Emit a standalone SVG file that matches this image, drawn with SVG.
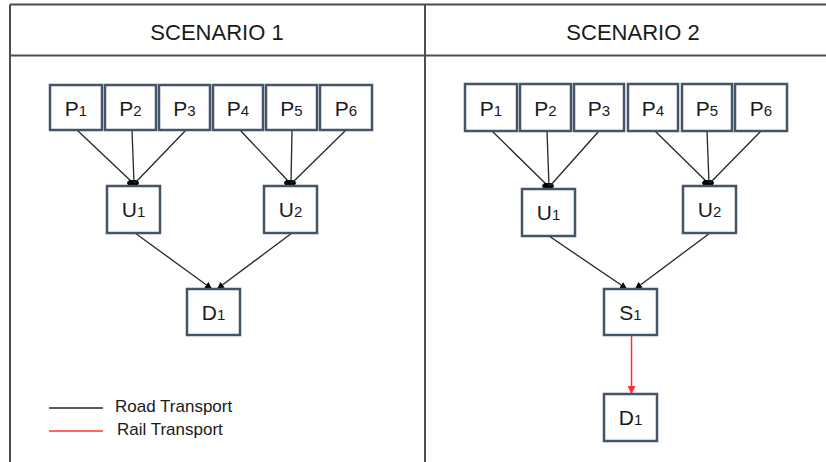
<svg xmlns="http://www.w3.org/2000/svg" width="826" height="462" viewBox="0 0 826 462">
  <style>
    .frame { stroke: #4d4d4d; stroke-width: 2; fill: none; }
    .box { fill: #ffffff; stroke: #44546a; stroke-width: 2.5; }
    .title { font-family: "Liberation Sans", Arial, sans-serif; font-size: 22px; fill: #1a1a1a; text-anchor: middle; }
    .lbl { font-family: "Liberation Sans", Arial, sans-serif; font-size: 21px; fill: #1a1a1a; text-anchor: middle; }
    .lbl tspan { font-size: 15px; }
    .road { stroke: #262626; stroke-width: 1.3; fill: none; }
    .rail { stroke: #ff3030; stroke-width: 1.5; fill: none; }
    .legend { font-family: "Liberation Sans", Arial, sans-serif; font-size: 17px; fill: #1a1a1a; }
  </style>
  <defs>
    <marker id="dot" viewBox="0 0 12 7" refX="6" refY="3.5" markerWidth="12" markerHeight="7" markerUnits="userSpaceOnUse" orient="0">
      <ellipse cx="6" cy="3.5" rx="6" ry="3.5" fill="#000"/>
    </marker>
    <marker id="tip" viewBox="0 0 8 8" refX="8" refY="4" markerWidth="7" markerHeight="7" markerUnits="userSpaceOnUse" orient="auto">
      <path d="M0,0 L8,4 L0,8 z" fill="#000"/>
    </marker>
    <marker id="tipRed" viewBox="0 0 8 8" refX="8" refY="4" markerWidth="8" markerHeight="8" markerUnits="userSpaceOnUse" orient="auto">
      <path d="M0,0 L8,4 L0,8 z" fill="#ff3030"/>
    </marker>
  </defs>

  <rect width="826" height="462" fill="#ffffff"/>

  <!-- table frame -->
  <g id="frame">
    <line class="frame" x1="10" y1="4.5" x2="826" y2="4.5"/>
    <line class="frame" x1="10" y1="55.5" x2="826" y2="55.5"/>
    <line class="frame" x1="10" y1="4.5" x2="10" y2="462"/>
    <line class="frame" x1="425" y1="4.5" x2="425" y2="462"/>
    <text class="title" x="217" y="40">SCENARIO 1</text>
    <text class="title" x="633" y="40">SCENARIO 2</text>
  </g>

  <!-- connectors -->
  <g id="connectors">
    <!-- scenario 1 -->
    <line class="road" x1="77" y1="130" x2="133" y2="183" marker-end="url(#dot)"/>
    <line class="road" x1="132" y1="130" x2="134" y2="183"/>
    <line class="road" x1="186" y1="130" x2="135" y2="183"/>
    <line class="road" x1="240" y1="130" x2="290" y2="183" marker-end="url(#dot)"/>
    <line class="road" x1="292" y1="130" x2="291" y2="183"/>
    <line class="road" x1="346" y1="130" x2="292" y2="183"/>
    <line class="road" x1="135" y1="233" x2="212" y2="289" marker-end="url(#tip)"/>
    <line class="road" x1="292" y1="233" x2="217" y2="289" marker-end="url(#tip)"/>
    <!-- scenario 2 -->
    <line class="road" x1="492" y1="131" x2="548" y2="186" marker-end="url(#dot)"/>
    <line class="road" x1="547" y1="131" x2="549" y2="186"/>
    <line class="road" x1="599" y1="131" x2="550" y2="186"/>
    <line class="road" x1="655" y1="131" x2="708" y2="183" marker-end="url(#dot)"/>
    <line class="road" x1="707" y1="131" x2="709" y2="183"/>
    <line class="road" x1="761" y1="131" x2="710" y2="183"/>
    <line class="road" x1="549" y1="236" x2="627" y2="289" marker-end="url(#tip)"/>
    <line class="road" x1="710" y1="233" x2="635" y2="289" marker-end="url(#tip)"/>
    <line class="rail" x1="631.5" y1="335" x2="631.5" y2="394" marker-end="url(#tipRed)"/>
  </g>

  <!-- scenario 1 nodes -->
  <g id="s1-P1"><rect class="box" x="50" y="85" width="52" height="45"/><text class="lbl" x="76" y="116">P<tspan>1</tspan></text></g>
  <g id="s1-P2"><rect class="box" x="105" y="85" width="51" height="45"/><text class="lbl" x="130.5" y="116">P<tspan>2</tspan></text></g>
  <g id="s1-P3"><rect class="box" x="159" y="85" width="51" height="45"/><text class="lbl" x="184.5" y="116">P<tspan>3</tspan></text></g>
  <g id="s1-P4"><rect class="box" x="213" y="85" width="50" height="45"/><text class="lbl" x="238" y="116">P<tspan>4</tspan></text></g>
  <g id="s1-P5"><rect class="box" x="266" y="85" width="51" height="45"/><text class="lbl" x="291.5" y="116">P<tspan>5</tspan></text></g>
  <g id="s1-P6"><rect class="box" x="320" y="85" width="52" height="45"/><text class="lbl" x="346" y="116">P<tspan>6</tspan></text></g>
  <g id="s1-U1"><rect class="box" x="107" y="186" width="53" height="47"/><text class="lbl" x="133.5" y="217">U<tspan>1</tspan></text></g>
  <g id="s1-U2"><rect class="box" x="264" y="186" width="53" height="47"/><text class="lbl" x="290.5" y="217">U<tspan>2</tspan></text></g>
  <g id="s1-D1"><rect class="box" x="187" y="289" width="53" height="46"/><text class="lbl" x="213.5" y="320">D<tspan>1</tspan></text></g>

  <!-- scenario 2 nodes -->
  <g id="s2-P1"><rect class="box" x="465" y="84" width="52" height="47"/><text class="lbl" x="491" y="116">P<tspan>1</tspan></text></g>
  <g id="s2-P2"><rect class="box" x="520" y="84" width="51" height="47"/><text class="lbl" x="545.5" y="116">P<tspan>2</tspan></text></g>
  <g id="s2-P3"><rect class="box" x="574" y="84" width="50" height="47"/><text class="lbl" x="599" y="116">P<tspan>3</tspan></text></g>
  <g id="s2-P4"><rect class="box" x="628" y="84" width="50" height="47"/><text class="lbl" x="653" y="116">P<tspan>4</tspan></text></g>
  <g id="s2-P5"><rect class="box" x="682" y="84" width="50" height="47"/><text class="lbl" x="707" y="116">P<tspan>5</tspan></text></g>
  <g id="s2-P6"><rect class="box" x="735" y="84" width="52" height="47"/><text class="lbl" x="761" y="116">P<tspan>6</tspan></text></g>
  <g id="s2-U1"><rect class="box" x="522" y="189" width="53" height="47"/><text class="lbl" x="548.5" y="220">U<tspan>1</tspan></text></g>
  <g id="s2-U2"><rect class="box" x="683" y="186" width="53" height="47"/><text class="lbl" x="709.5" y="217">U<tspan>2</tspan></text></g>
  <g id="s2-S1"><rect class="box" x="604" y="289" width="53" height="46"/><text class="lbl" x="630.5" y="320">S<tspan>1</tspan></text></g>
  <g id="s2-D1"><rect class="box" x="604" y="394" width="53" height="47"/><text class="lbl" x="630.5" y="425">D<tspan>1</tspan></text></g>

  <!-- legend -->
  <g id="legend">
    <line class="road" x1="49" y1="408" x2="103" y2="408"/>
    <text class="legend" x="115" y="412">Road Transport</text>
    <line class="rail" x1="49" y1="431" x2="103" y2="431"/>
    <text class="legend" x="117" y="435">Rail Transport</text>
  </g>
</svg>
